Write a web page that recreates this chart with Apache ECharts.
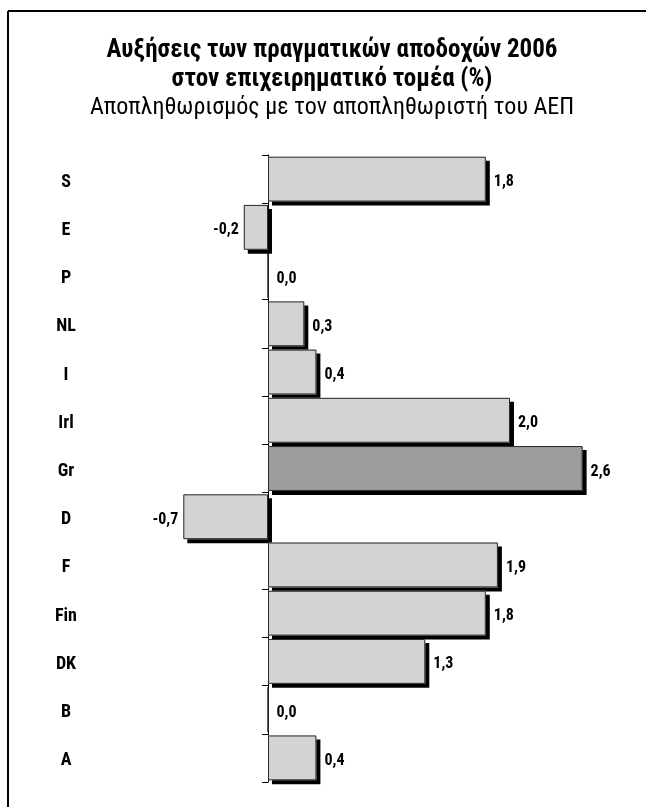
<!DOCTYPE html>
<html><head><meta charset="utf-8">
<script src="https://cdn.jsdelivr.net/npm/echarts@6/dist/echarts.min.js"></script>
<style>html,body{margin:0;padding:0;background:#fff}#c{width:646px;height:807px}</style>
</head><body><div id="c"></div>
<script>
const categories = ['S','E','P','NL','I','Irl','Gr','D','F','Fin','DK','B','A'];
const values = [1.8,-0.2,0.0,0.3,0.4,2.0,2.6,-0.7,1.9,1.8,1.3,0.0,0.4];
const highlight = 'Gr';
const titleLines = ['Αυξήσεις των πραγματικών αποδοχών 2006','στον επιχειρηματικό τομέα (%)'];
const subtitle = 'Αποπληθωρισμός με τον αποπληθωριστή του ΑΕΠ';

const FONT = '"Liberation Sans Narrow","Roboto Condensed",Roboto,sans-serif';
const fmt = v => v.toFixed(1).replace('.', ',');

const fillData = values.map((v, i) => ({
  value: v,
  itemStyle: { color: categories[i] === highlight ? '#9c9d9f' : '#d2d3d5' }
}));
const borderData = values.map(v => ({
  value: v,
  label: { position: v < 0 ? 'left' : 'right', distance: v < 0 ? 5 : 8 }
}));

const chart = echarts.init(document.getElementById('c'), null, { renderer: 'canvas' });
chart.setOption({
  animation: false,
  backgroundColor: '#fff',
  title: [{
    text: titleLines.join('\n'),
    left: 327, textAlign: 'center', top: 31,
    textStyle: { fontFamily: FONT, fontWeight: 'bold', fontSize: 25, lineHeight: 29, color: '#000' }
  }, {
    text: subtitle,
    left: 327, textAlign: 'center', top: 91,
    textStyle: { fontFamily: FONT, fontWeight: 'normal', fontSize: 24, color: '#000' }
  }],
  graphic: [
    { type: 'line', shape: { x1: 8, y1: 11, x2: 646, y2: 11 }, style: { stroke: '#000', lineWidth: 2 } },
    { type: 'line', shape: { x1: 8, y1: 11, x2: 8, y2: 807 }, style: { stroke: '#000', lineWidth: 2 } }
  ],
  grid: { left: 147, right: 15, top: 155, bottom: 25, containLabel: false, outerBoundsMode: 'none' },
  xAxis: { type: 'value', min: -1, max: 3, show: false },
  yAxis: {
    type: 'category', data: categories, inverse: true,
    axisLine: { show: true, onZero: true, lineStyle: { color: '#000', width: 1 } },
    axisTick: { show: true, length: 6, lineStyle: { color: '#000', width: 1 } },
    axisLabel: {
      align: 'center', margin: 81, color: '#000',
      formatter: v => '{a|' + v + '}',
      rich: { a: { fontFamily: FONT, fontWeight: 'bold', fontSize: 18, color: '#000', padding: [6, 0, 0, 0] } }
    }
  },
  series: [{
    type: 'bar', data: fillData, barCategoryGap: '7%', barGap: '-100%',
    itemStyle: { borderWidth: 0, shadowColor: '#000', shadowOffsetX: 4, shadowOffsetY: 4, shadowBlur: 0 }
  }, {
    type: 'bar', data: borderData, barCategoryGap: '7%', barGap: '-100%',
    itemStyle: { color: 'rgba(0,0,0,0)', borderColor: '#2a2a2a', borderWidth: 1 },
    label: { show: true, offset: [0, 3], fontFamily: FONT, fontWeight: 'bold', fontSize: 16, color: '#000', formatter: p => fmt(p.value) }
  }]
});
</script></body></html>
